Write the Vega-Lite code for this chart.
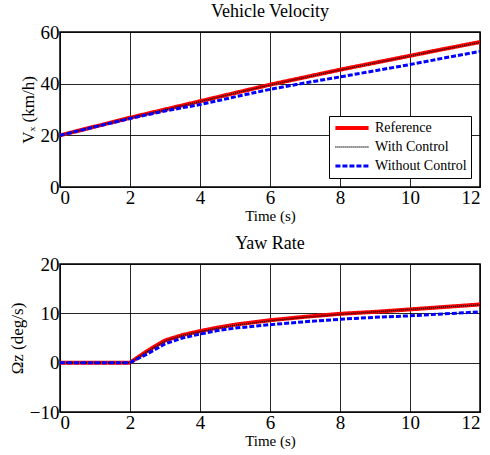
{
  "$schema": "https://vega.github.io/schema/vega-lite/v6.json",
  "padding": {"left": 7, "top": 2, "right": 0, "bottom": 0},
  "background": "white",
  "config": {
    "font": "Liberation Serif",
    "view": {"stroke": "black", "strokeWidth": 1.5},
    "axis": {"grid": true, "gridColor": "#000", "gridOpacity": 0.85, "gridWidth": 1, "domain": false, "ticks": false,
      "labelFont": "Liberation Serif", "labelFontSize": 19, "labelColor": "#000", "labelPadding": 1,
      "titleFont": "Liberation Serif", "titleFontSize": 15, "titleFontWeight": "normal", "titleColor": "#000", "titlePadding": 1},
    "axisY": {"titleFontSize": 17, "titlePadding": 3},
    "title": {"font": "Liberation Serif", "fontSize": 18, "fontWeight": "normal", "color": "#000", "offset": 2},
    "legend": {"orient": "bottom-right", "offset": 9, "strokeColor": "black", "fillColor": "white", "padding": 4,
      "symbolType": "stroke", "symbolSize": 1100, "labelFont": "Liberation Serif", "labelFontSize": 14, "labelColor": "#000",
      "clipHeight": 16, "rowPadding": 3, "labelOffset": 4, "cornerRadius": 0}
  },
  "datasets": {
    "d": [
      {"t": 0, "s": "Reference", "v": 20, "r": 0},
      {"t": 1, "s": "Reference", "v": 23.4, "r": 0},
      {"t": 2, "s": "Reference", "v": 26.8, "r": 0},
      {"t": 2.5, "s": "Reference", "v": 28.4, "r": 2.4},
      {"t": 3, "s": "Reference", "v": 30, "r": 4.5},
      {"t": 3.5, "s": "Reference", "v": 31.6, "r": 5.6},
      {"t": 4, "s": "Reference", "v": 33.2, "r": 6.4},
      {"t": 4.5, "s": "Reference", "v": 34.8, "r": 7.1},
      {"t": 5, "s": "Reference", "v": 36.4, "r": 7.7},
      {"t": 6, "s": "Reference", "v": 39.6, "r": 8.6},
      {"t": 7, "s": "Reference", "v": 42.5, "r": 9.3},
      {"t": 8, "s": "Reference", "v": 45.4, "r": 9.9},
      {"t": 9, "s": "Reference", "v": 48.1, "r": 10.3},
      {"t": 10, "s": "Reference", "v": 50.8, "r": 10.8},
      {"t": 11, "s": "Reference", "v": 53.5, "r": 11.3},
      {"t": 12, "s": "Reference", "v": 56.1, "r": 11.8},
      {"t": 0, "s": "With Control", "v": 20, "r": 0},
      {"t": 1, "s": "With Control", "v": 23.4, "r": 0},
      {"t": 2, "s": "With Control", "v": 26.8, "r": 0},
      {"t": 2.5, "s": "With Control", "v": 28.3, "r": 2.3},
      {"t": 3, "s": "With Control", "v": 29.9, "r": 4.4},
      {"t": 3.5, "s": "With Control", "v": 31.5, "r": 5.5},
      {"t": 4, "s": "With Control", "v": 33.1, "r": 6.3},
      {"t": 4.5, "s": "With Control", "v": 34.7, "r": 7.0},
      {"t": 5, "s": "With Control", "v": 36.3, "r": 7.6},
      {"t": 6, "s": "With Control", "v": 39.5, "r": 8.5},
      {"t": 7, "s": "With Control", "v": 42.4, "r": 9.2},
      {"t": 8, "s": "With Control", "v": 45.3, "r": 9.8},
      {"t": 9, "s": "With Control", "v": 48.0, "r": 10.3},
      {"t": 10, "s": "With Control", "v": 50.7, "r": 10.8},
      {"t": 11, "s": "With Control", "v": 53.4, "r": 11.3},
      {"t": 12, "s": "With Control", "v": 56.0, "r": 11.7},
      {"t": 0, "s": "Without Control", "v": 20, "r": 0},
      {"t": 1, "s": "Without Control", "v": 23.3, "r": 0},
      {"t": 2, "s": "Without Control", "v": 26.5, "r": 0},
      {"t": 2.5, "s": "Without Control", "v": 28.0, "r": 1.8},
      {"t": 3, "s": "Without Control", "v": 29.4, "r": 3.8},
      {"t": 3.5, "s": "Without Control", "v": 30.7, "r": 5.0},
      {"t": 4, "s": "Without Control", "v": 31.9, "r": 5.8},
      {"t": 4.5, "s": "Without Control", "v": 33.4, "r": 6.5},
      {"t": 5, "s": "Without Control", "v": 34.9, "r": 7.0},
      {"t": 6, "s": "Without Control", "v": 37.8, "r": 7.7},
      {"t": 7, "s": "Without Control", "v": 40.3, "r": 8.3},
      {"t": 8, "s": "Without Control", "v": 42.6, "r": 8.8},
      {"t": 9, "s": "Without Control", "v": 45.0, "r": 9.2},
      {"t": 10, "s": "Without Control", "v": 47.4, "r": 9.5},
      {"t": 11, "s": "Without Control", "v": 50.0, "r": 9.9},
      {"t": 12, "s": "Without Control", "v": 52.5, "r": 10.3}
    ]
  },
  "spacing": 10,
  "resolve": {"legend": {"color": "independent", "strokeDash": "independent", "strokeWidth": "independent"}},
  "vconcat": [
    {
      "title": "Vehicle Velocity",
      "width": 420,
      "height": 155,
      "data": {"name": "d"},
      "mark": {"type": "line", "clip": true},
      "encoding": {
        "x": {"field": "t", "type": "quantitative", "scale": {"domain": [0, 12], "nice": false}, "axis": {"values": [0, 2, 4, 6, 8, 10, 12], "title": "Time (s)"}},
        "y": {"field": "v", "type": "quantitative", "scale": {"domain": [0, 60], "nice": false}, "axis": {"values": [0, 20, 40, 60], "title": "Vₓ (km/h)"}},
        "color": {"field": "s", "type": "nominal", "title": null, "scale": {"domain": ["Reference", "With Control", "Without Control"], "range": ["#ff0000", "#000000", "#0000ff"]}},
        "strokeDash": {"field": "s", "type": "nominal", "title": null, "scale": {"domain": ["Reference", "With Control", "Without Control"], "range": [[1, 0], [1, 1], [5, 2]]}},
        "strokeWidth": {"field": "s", "type": "nominal", "title": null, "scale": {"type": "ordinal", "domain": ["Reference", "With Control", "Without Control"], "range": [4, 1.5, 3]}}
      }
    },
    {
      "title": "Yaw Rate",
      "width": 420,
      "height": 148,
      "data": {"name": "d"},
      "mark": {"type": "line", "clip": true},
      "encoding": {
        "x": {"field": "t", "type": "quantitative", "scale": {"domain": [0, 12], "nice": false}, "axis": {"values": [0, 2, 4, 6, 8, 10, 12], "title": "Time (s)"}},
        "y": {"field": "r", "type": "quantitative", "scale": {"domain": [-10, 20], "nice": false}, "axis": {"values": [-10, 0, 10, 20], "title": "Ωz (deg/s)"}},
        "color": {"field": "s", "type": "nominal", "legend": null, "scale": {"domain": ["Reference", "With Control", "Without Control"], "range": ["#ff0000", "#000000", "#0000ff"]}},
        "strokeDash": {"field": "s", "type": "nominal", "legend": null, "scale": {"domain": ["Reference", "With Control", "Without Control"], "range": [[1, 0], [1, 1], [5, 2]]}},
        "strokeWidth": {"field": "s", "type": "nominal", "legend": null, "scale": {"type": "ordinal", "domain": ["Reference", "With Control", "Without Control"], "range": [4, 1.5, 3]}}
      }
    }
  ]
}
